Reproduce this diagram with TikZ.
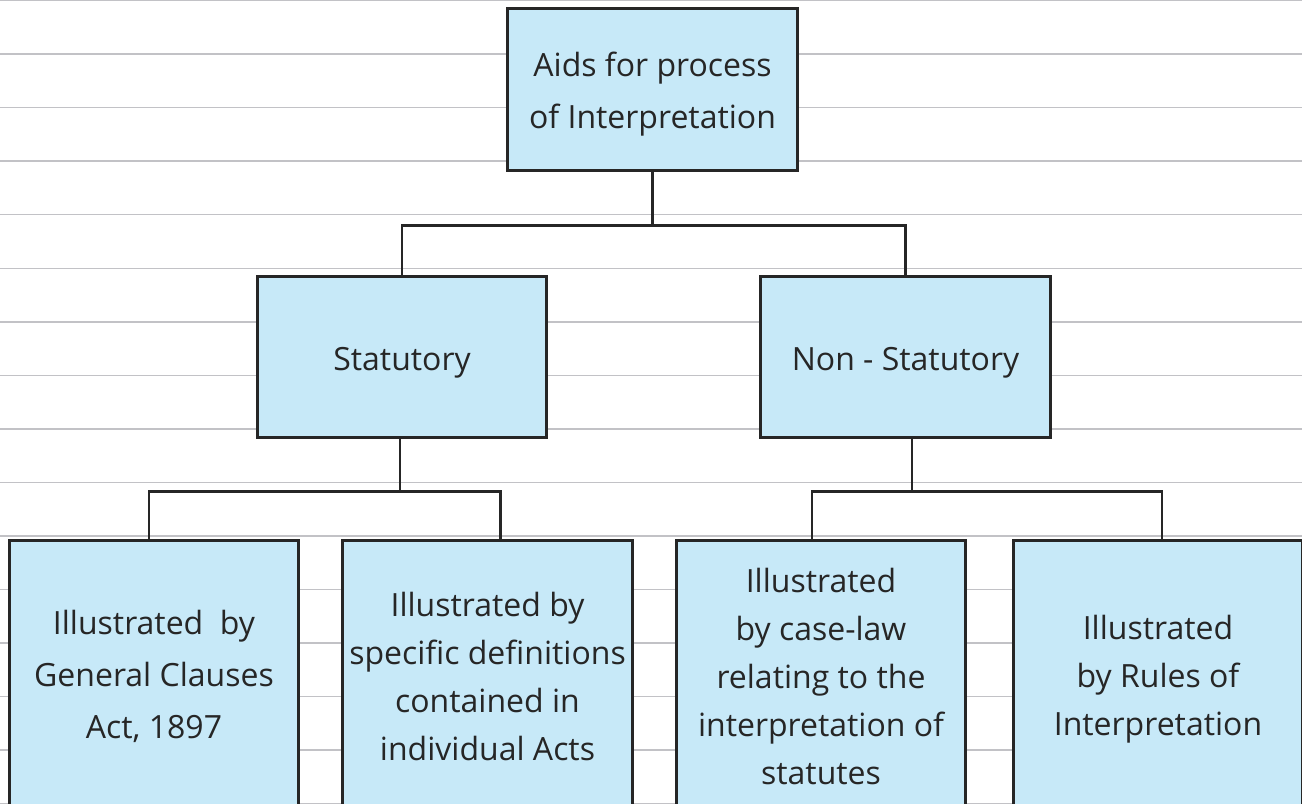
\documentclass[tikz,border=0pt]{standalone}
\usepackage{fontspec}
\setmainfont{Open Sans}
\usetikzlibrary{calc}
\definecolor{boxfill}{HTML}{C7E9F8}
\definecolor{boxline}{HTML}{262626}
\definecolor{rulegray}{HTML}{C2C2C6}
\begin{document}
\begin{tikzpicture}[x=0.75pt,y=-0.75pt,
  box/.style={draw=boxline, fill=boxfill, line width=2.2pt, inner sep=0pt,
    minimum width=217pt, minimum height=121pt},
  tallbox/.style={box, minimum height=203pt},
  wide/.style={align=center, inner sep=0pt, text=boxline, font=\fontsize{24}{39}\selectfont},
  tight/.style={align=center, inner sep=0pt, text=boxline, font=\fontsize{24}{36}\selectfont},
  link/.style={draw=boxline, line width=2.2pt},
  rule/.style={draw=rulegray, line width=1.1pt}]
\useasboundingbox (0,0) rectangle (1302,803);
\clip (0,0) rectangle (1302,803);
% notebook ruling
\foreach \k in {0,...,15}
  \draw[rule] (0,{0.5+53.55*\k}) -- (1302,{0.5+53.55*\k});

% boxes
\node[box] (root) at (652.5,89.5) {};
\node[box] (stat) at (402,357) {};
\node[box] (nonstat) at (905.5,357) {};
\node[tallbox] (gca) at (154,676) {};
\node[tallbox] (defs) at (487.5,676) {};
\node[tallbox] (case) at (821,676) {};
\node[tallbox] (rules) at (1158,676) {};

% box texts
\node[wide] (rootT) at ($(root.center)+(0,5)$) {Aids for process\\of Interpretation};
\node[wide] (statT) at ($(stat.center)+(0,6)$) {Statutory};
\node[wide] (nonstatT) at ($(nonstat.center)+(0,6)$) {Non - Statutory};
\node[wide] (gcaT) at ($(gca.center)+(0,0)$) {Illustrated\ \ by\\General Clauses\\Act, 1897};
\node[tight] (defsT) at ($(defs.center)+(0,0)$) {Illustrated by\\specific definitions\\contained in\\individual Acts};
\node[tight] (caseT) at ($(case.center)+(0,0)$) {Illustrated\\by case-law\\relating to the\\interpretation of\\statutes};
\node[tight] (rulesT) at ($(rules.center)+(0,3)$) {Illustrated\\by Rules of\\Interpretation};

% junction levels
\coordinate (jtop) at (0,225.5);
\coordinate (jbot) at (0,491.5);

% connectors
\draw[link] (root.south) -- (root.south |- jtop);
\draw[link] (stat.north) -- (stat.north |- jtop) -- (nonstat.north |- jtop) -- (nonstat.north);

\coordinate (sdrop) at ($(stat.south)+(-2,0)$);
\coordinate (gtop) at ($(gca.north)+(-5,0)$);
\coordinate (dtop) at ($(defs.north)+(13,0)$);
\draw[link] (sdrop) -- (sdrop |- jbot);
\draw[link] (gtop) -- (gtop |- jbot) -- (dtop |- jbot) -- (dtop);

\coordinate (ndrop) at ($(nonstat.south)+(6.5,0)$);
\coordinate (ctop) at ($(case.north)+(-9,0)$);
\coordinate (rtop) at ($(rules.north)+(4,0)$);
\draw[link] (ndrop) -- (ndrop |- jbot);
\draw[link] (ctop) -- (ctop |- jbot) -- (rtop |- jbot) -- (rtop);
\end{tikzpicture}
\end{document}
